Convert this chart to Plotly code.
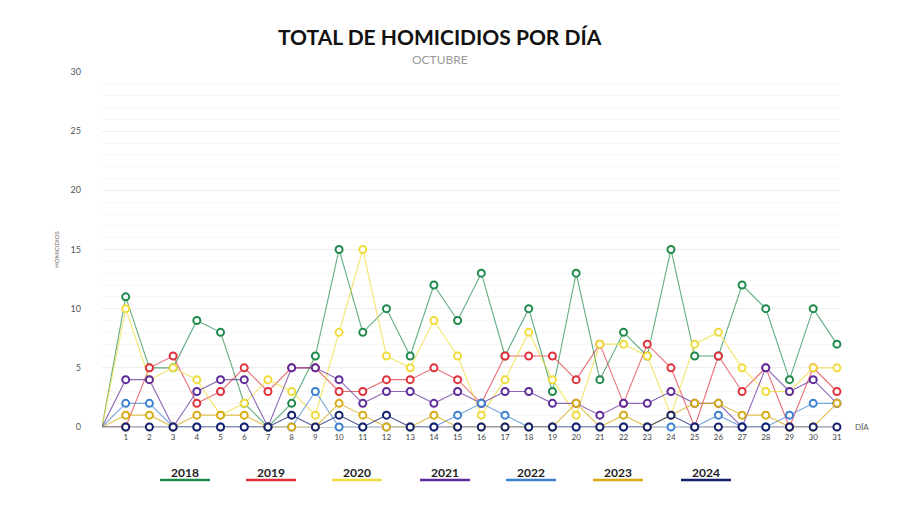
import plotly.graph_objects as go

DAYS = list(range(0, 32))
TICK_DAYS = list(range(1, 32))
YEARS = ["2018", "2019", "2020", "2021", "2022", "2023", "2024"]

v2018 = [11, 5, 5, 9, 8, 2, 0, 2, 6, 15, 8, 10, 6, 12, 9, 13, 6, 10, 3, 13, 4, 8, 6, 15, 6, 6, 12, 10, 4, 10, 7]
v2019 = [0, 5, 6, 2, 3, 5, 3, 5, 5, 3, 3, 4, 4, 5, 4, 2, 6, 6, 6, 4, 7, 2, 7, 5, 0, 6, 3, 5, 0, 5, 3]
v2020 = [10, 4, 5, 4, 1, 2, 4, 3, 1, 8, 15, 6, 5, 9, 6, 1, 4, 8, 4, 1, 7, 7, 6, 1, 7, 8, 5, 3, 3, 5, 5]
v2021 = [4, 4, 0, 3, 4, 4, 0, 5, 5, 4, 2, 3, 3, 2, 3, 2, 3, 3, 2, 2, 1, 2, 2, 3, 2, 2, 0, 5, 3, 4, 2]
v2022 = [2, 2, 0, 0, 0, 0, 0, 0, 3, 0, 0, 0, 0, 0, 1, 2, 1, 0, 0, 0, 0, 0, 0, 0, 0, 1, 0, 0, 1, 2, 2]
v2023 = [1, 1, 0, 1, 1, 1, 0, 0, 0, 2, 1, 0, 0, 1, 0, 0, 0, 0, 0, 2, 0, 1, 0, 1, 2, 2, 1, 1, 0, 0, 2]
v2024 = [0, 0, 0, 0, 0, 0, 0, 1, 0, 1, 0, 1, 0, 0, 0, 0, 0, 0, 0, 0, 0, 0, 0, 1, 0, 0, 0, 0, 0, 0, 0]

SERIES = [v2018, v2019, v2020, v2021, v2022, v2023, v2024]
COLORS = ["#1f8a4c", "#e0323c", "#f0dc3c", "#5e2b9a", "#3d80d0", "#d6ab17", "#15216c"]
LINE_COLORS = ["rgba(31,138,76,0.7)", "rgba(224,50,60,0.7)", "rgba(240,220,60,0.75)",
               "rgba(94,43,154,0.7)", "rgba(61,128,208,0.7)", "rgba(214,171,23,0.75)",
               "rgba(21,33,108,0.7)"]

FONT = "Lato, 'Open Sans', sans-serif"

fig = go.Figure()
for year, vals, col, lcol in zip(YEARS, SERIES, COLORS, LINE_COLORS):
    y = [0] + vals
    fig.add_trace(go.Scatter(
        x=DAYS, y=y, mode="lines", name=year,
        line=dict(color=lcol, width=1.1), showlegend=False, hoverinfo="skip"))
for year, vals, col in zip(YEARS, SERIES, COLORS):
    fig.add_trace(go.Scatter(
        x=TICK_DAYS, y=vals, mode="markers", name=year,
        marker=dict(symbol="circle", size=7, color="white",
                    line=dict(color=col, width=2)),
        cliponaxis=False, showlegend=False))

# plot area in figure pixels
PL, PR, PT, PB = 94, 832, 64, 419
def px_x(p):
    return (p - PL) / (PR - PL)
def px_y(p):
    return (PB - p) / (PB - PT)

legend_x = [177, 263, 349, 437, 523, 610, 698]
for year, col, cx in zip(YEARS, COLORS, legend_x):
    fig.add_annotation(x=px_x(cx), y=px_y(464), xref="paper", yref="paper",
                       xanchor="center", yanchor="middle",
                       text=f"<b>{year}</b>", showarrow=False,
                       font=dict(family=FONT, size=12, color="#222"))
    fig.add_shape(type="line", xref="paper", yref="paper",
                  x0=px_x(cx - 25), x1=px_x(cx + 25), y0=px_y(472), y1=px_y(472),
                  line=dict(color=col, width=2.5))

fig.add_annotation(x=px_x(854), y=0, xref="paper", yref="y", text="DÍA",
                   xanchor="center", yanchor="middle",
                   showarrow=False, font=dict(family=FONT, size=8, color="#555"))

fig.add_annotation(x=px_x(432), y=px_y(29), xref="paper", yref="paper",
                   xanchor="center", yanchor="middle",
                   text="<b>TOTAL DE HOMICIDIOS POR DÍA</b>", showarrow=False,
                   font=dict(family=FONT, size=21, color="#111"))
fig.add_annotation(x=px_x(432), y=px_y(51), xref="paper", yref="paper",
                   xanchor="center", yanchor="middle",
                   text="OCTUBRE", showarrow=False,
                   font=dict(family=FONT, size=12, color="#9a9a9a"))

fig.update_layout(
    width=900, height=506,
    margin=dict(l=PL, r=900 - PR, t=PT, b=506 - PB),
    paper_bgcolor="white", plot_bgcolor="white",
    font=dict(family=FONT),
    xaxis=dict(range=[0, 31.13], tickmode="array", tickvals=TICK_DAYS,
               ticktext=[str(d) for d in TICK_DAYS], showgrid=False, zeroline=False,
               showline=False, tickfont=dict(size=8, color="#444"), ticks="",
               ticklabelstandoff=4),
    yaxis=dict(range=[0, 30], tickmode="linear", tick0=0, dtick=5,
               showgrid=True, gridcolor="#eeeeee", gridwidth=1, zeroline=True,
               zerolinecolor="#cccccc", zerolinewidth=1,
               tickfont=dict(size=9, color="#555"), ticklabelstandoff=20,
               minor=dict(dtick=1, showgrid=True, gridcolor="#f7f7f7", gridwidth=1),
               title=dict(text="HOMICIDIOS", font=dict(size=6, color="#666"), standoff=10)),
    hovermode=False,
)

fig.write_html("out.html")
